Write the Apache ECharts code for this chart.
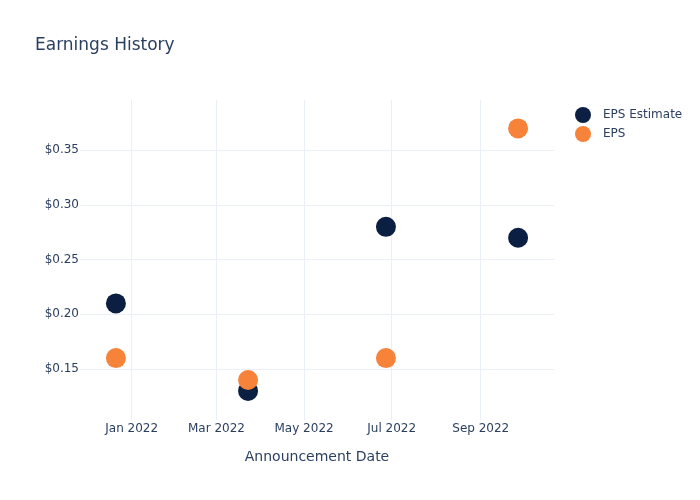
<!DOCTYPE html>
<html><head><meta charset="utf-8">
<script src="https://cdn.jsdelivr.net/npm/echarts@6/dist/echarts.min.js"></script>
<style>html,body{margin:0;padding:0;background:#fff}#c{width:700px;height:500px}</style>
</head><body><div id="c"></div>
<script>
const dates = ['2021-12-21', '2022-03-23', '2022-06-27', '2022-09-27'];
const epsEstimate = [0.21, 0.13, 0.28, 0.27];
const eps = [0.16, 0.14, 0.16, 0.37];
const xTickDates = ['2022-01-01', '2022-03-01', '2022-05-01', '2022-07-01', '2022-09-01'];
const xTickLabels = ['Jan 2022', 'Mar 2022', 'May 2022', 'Jul 2022', 'Sep 2022'];
const yTicks = [0.15, 0.20, 0.25, 0.30, 0.35];

const F = 'DejaVu Sans';
const txt = '#2a3f5f';
const ts = d => Date.UTC(+d.slice(0, 4), +d.slice(5, 7) - 1, +d.slice(8, 10));
const xTickTs = xTickDates.map(ts);
const labelMap = {};
xTickTs.forEach((t, i) => labelMap[t] = xTickLabels[i]);

const chart = echarts.init(document.getElementById('c'));
chart.setOption({
  animation: false,
  textStyle: { fontFamily: F },
  title: { text: 'Earnings History', left: 30, top: 32, textStyle: { fontFamily: F, fontSize: 17, fontWeight: 'normal', color: txt } },
  legend: {
    orient: 'vertical', left: 570, top: 102, itemGap: 3, itemWidth: 16, itemHeight: 16,
    icon: 'circle', textStyle: { fontFamily: F, fontSize: 12, color: txt, padding: [0, 0, 0, 7] },
    data: ['EPS Estimate', 'EPS']
  },
  grid: { left: 80, right: 146, top: 100, bottom: 80, containLabel: false },
  xAxis: {
    type: 'value', min: ts('2021-11-26'), max: ts('2022-10-22'),
    name: 'Announcement Date', nameLocation: 'middle', nameGap: 30,
    nameTextStyle: { fontFamily: F, fontSize: 14, color: txt },
    axisLine: { show: false }, axisTick: { show: false, customValues: xTickTs },
    axisLabel: { customValues: xTickTs, formatter: v => labelMap[v] || '', fontFamily: F, fontSize: 12, color: txt, margin: 3 },
    splitLine: { show: true, lineStyle: { color: '#ebf0f8', width: 1 } }
  },
  yAxis: {
    type: 'value', min: 0.1034, max: 0.396,
    axisLine: { show: false }, axisTick: { show: false, customValues: yTicks },
    axisLabel: { customValues: yTicks, formatter: v => '$' + v.toFixed(2), fontFamily: F, fontSize: 12, color: txt, margin: 1 },
    splitLine: { show: true, lineStyle: { color: '#ebf0f8', width: 1 } }
  },
  series: [
    { name: 'EPS Estimate', type: 'scatter', symbolSize: 20, itemStyle: { color: '#0b1f42', opacity: 1 },
      data: dates.map((d, i) => [ts(d), epsEstimate[i]]) },
    { name: 'EPS', type: 'scatter', symbolSize: 20, itemStyle: { color: '#f7823a', opacity: 1 },
      data: dates.map((d, i) => [ts(d), eps[i]]) }
  ]
});
</script></body></html>
